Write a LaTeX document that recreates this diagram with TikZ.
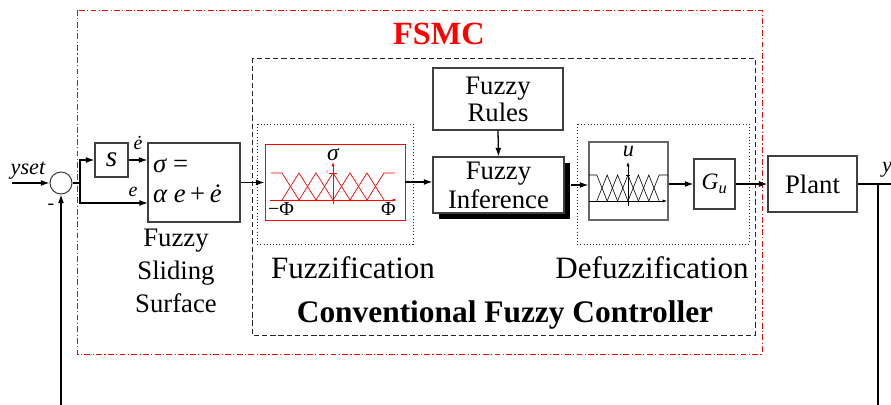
\documentclass[tikz,border=0pt]{standalone}
\usepackage{fontspec}
\setmainfont{Liberation Serif}
\usetikzlibrary{arrows.meta,shadows}

\tikzset{
  blk/.style={draw=black!75, line width=0.9pt, fill=white, inner sep=0pt},
  arr/.style={-{Latex[length=2.6mm,width=1.8mm]}, line width=1.1pt},
  axarr/.style={-{Latex[length=1.3mm,width=0.9mm]}},
  mfred/.style={red, line width=0.6pt},
  mfblk/.style={black, line width=0.5pt},
  dotframe/.style={black!85, line width=0.7pt, dotted},
  txt/.style={inner sep=0pt, font=\fontsize{22.8}{23}\selectfont},
  bigtxt/.style={inner sep=0pt, font=\fontsize{26.5}{30}\selectfont},
  lab/.style={inner sep=0pt, font=\fontsize{17}{19}\selectfont\itshape},
}

\begin{document}
\begin{tikzpicture}[x=0.03cm, y=-0.03cm]
		%%%%% START %%%%%
		\useasboundingbox (0,0) rectangle (891,405);
		
		% frames
		\draw[red, line width=0.8pt, dash pattern=on 5pt off 2pt on 1pt off 2pt] (77,10) rectangle (762,354);
		\node[bigtxt, anchor=base, text=red, font=\fontsize{27.6}{30}\selectfont\bfseries] (fsmc) at (439,45) {FSMC};
		\draw[black!85, line width=0.8pt, dash pattern=on 4.5pt off 2.5pt] (252,58) rectangle (755,335);
		\node[bigtxt, anchor=base, font=\fontsize{26.8}{30}\selectfont\bfseries] (cfc) at (505,323) {Conventional Fuzzy Controller};
		\draw[dotframe] (257,124) rectangle (413,244);
		\draw[dotframe] (577,124) rectangle (749,244);
		\node[bigtxt, anchor=base] (fuzzlab) at (353,279) {Fuzzification};
		\node[bigtxt, anchor=base] (defuzzlab) at (652,279) {Defuzzification};
		
		% blocks
		\node[blk, circle, minimum size=0.66cm] (sum) at (61,183) {};
		\node[blk, minimum width=0.99cm, minimum height=1.02cm, font=\fontsize{25}{26}\selectfont\itshape] (sbox) at (111.5,160) {s};
		\node[blk, minimum width=2.76cm, minimum height=2.37cm] (sigbox) at (194,182.5) {};
		\node[txt, anchor=base west] (sig1) at (153,173) {\itshape σ\upshape\ =};
		\node[txt, anchor=base west] (sig2) at (153,203) {\itshape α\ e\upshape\,+\,\itshape ė};
		\node[txt, align=center, font=\fontsize{22.8}{28}\selectfont] (fss) at (176,271) {Fuzzy\\Sliding\\Surface};
		\node[blk, draw=red, line width=0.7pt, minimum width=4.2cm, minimum height=2.28cm] (redmf) at (335,182) {};
		\node[blk, txt, draw=black!75, align=center, minimum width=3.9cm, minimum height=1.86cm] (rules) at (498,99) {Fuzzy\\Rules};
		\node[blk, txt, draw=black!75, align=center, minimum width=3.93cm, minimum height=1.68cm,
		      font=\fontsize{22.8}{24.7}\selectfont,
		      drop shadow={shadow xshift=0.18cm, shadow yshift=-0.18cm, fill=black, opacity=1}] (infer) at (498.5,185) {Fuzzy\\Inference};
		\node[blk, draw=black!60, minimum width=2.37cm, minimum height=2.34cm] (mfbox) at (628.5,181) {};
		\node[blk, minimum width=1.23cm, minimum height=1.5cm, font=\fontsize{20}{22}\selectfont\itshape] (gubox) at (714.5,184) {G\textsubscript{u}};
		\node[blk, txt, minimum width=2.67cm, minimum height=1.68cm] (plant) at (812.5,184) {Plant};
		
		% fuzzification membership functions
		\foreach \k in {-2,...,2}
			\draw[mfred] ({333+17*\k-17},200) -- ({333+17*\k},173) -- ({333+17*\k+17},200);
		\draw[mfred] (271,173) -- (282,173) -- (299,200);
		\draw[mfred] (367,200) -- (384,173) -- (395,173);
		\draw[mfred, axarr] (270,200) -- (397,200);
		\draw[mfred, axarr] (333,204) -- (333,162);
		\draw[mfred] (329,173) -- (337,173);
		\node[inner sep=0pt, text=red, font=\fontsize{4}{5}\selectfont] (one) at (327,172) {1};
		\node[inner sep=0pt, anchor=base, font=\fontsize{20}{22}\selectfont\itshape] (siglab) at (333,161) {σ};
		\node[inner sep=0pt, anchor=base, font=\fontsize{17}{19}\selectfont] (mphi) at (281,216) {−Φ};
		\node[inner sep=0pt, anchor=base, font=\fontsize{17}{19}\selectfont] (phi) at (388.5,216) {Φ};
		
		% defuzzification membership functions
		\foreach \k in {-2,...,2}
			\draw[mfblk] ({628+10.4*\k-10.4},201) -- ({628+10.4*\k},175) -- ({628+10.4*\k+10.4},201);
		\draw[mfblk] (589,175) -- (596.8,175) -- (607.2,201);
		\draw[mfblk] (648.8,201) -- (659.2,175) -- (668,175);
		\draw[mfblk, axarr] (589,201) -- (667,201);
		\draw[mfblk, axarr] (628,206) -- (628,162);
		\draw[mfblk] (626,175) -- (630,175);
		\node[inner sep=0pt, anchor=base, font=\fontsize{19}{21}\selectfont\itshape] (ulab) at (628.5,157) {u};
		
		% signals
		\coordinate (in) at (12,183);
		\coordinate (split) at (80,183);
		\coordinate (ein) at (148,203);
		\coordinate (fbl) at (61,405);
		\coordinate (out) at (891,184);
		\coordinate (ytap) at (878,184);
		\coordinate (fbr) at (878,405);
		
		\draw[arr] (in) -- (sum);
		\draw[arr] (fbl) -- (sum.south);
		\draw[line width=1.1pt] (sum.east) -- (split);
		\draw[arr] (split) |- (sbox.west);
		\draw[arr] (split) |- (ein);
		\draw[arr] (sbox.east) -- (sbox.east -| sigbox.west);
		\draw[arr] (sigbox.east) -- (sigbox.east -| redmf.west);
		\draw[arr] (redmf.east) -- (redmf.east -| infer.west);
		\draw[arr] (rules.south) -- (infer.north);
		\draw[arr] ([xshift=0.18cm]infer.east) -- (infer.east -| mfbox.west);
		\draw[arr] (gubox.west -| mfbox.east) -- (gubox.west);
		\draw[arr] (gubox.east) -- (plant.west);
		\draw[line width=1.1pt] (plant.east) -- (out);
		\draw[line width=1.1pt] (ytap) -- (fbr);
		
		\node[lab, anchor=base, font=\fontsize{19}{21}\selectfont\itshape] (yset) at (28,175) {yset};
		\node[lab, anchor=base, font=\fontsize{17}{19}\selectfont] (minus) at (51,210) {-};
		\node[lab, anchor=base] (edot) at (138,150) {ė};
		\node[lab, anchor=base] (elab) at (133,197) {e};
		\node[lab, anchor=base west, font=\fontsize{19}{21}\selectfont\itshape] (ylab) at (882,173) {y};
		
		%%%%% END %%%%%
	\end{tikzpicture}
\end{document}
